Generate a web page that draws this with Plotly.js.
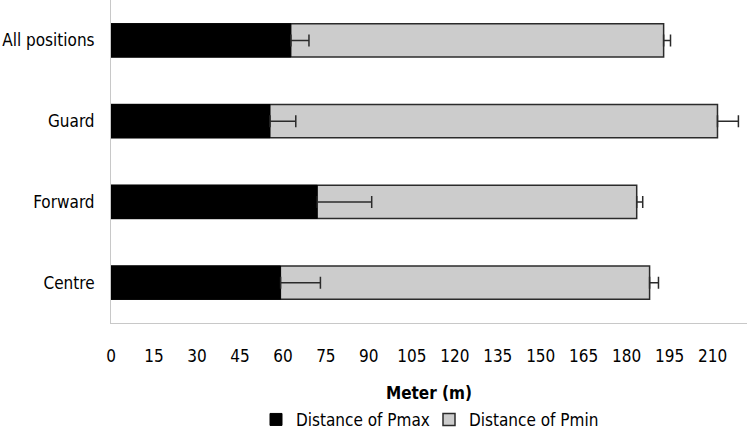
<!DOCTYPE html>
<html>
<head>
<meta charset="utf-8">
<script src="https://cdn.plot.ly/plotly-3.0.1.min.js"></script>
<style>
  html, body { margin: 0; padding: 0; background: #fff; }
  #chart { width: 747px; height: 438px; }
</style>
</head>
<body>
<div id="chart"></div>
<script>
// Positions, listed bottom to top as Plotly draws categories
const positions = ['Centre', 'Forward', 'Guard', 'All positions'];
// Distance of Pmax (m) and its SD
const pmaxDist = [59.2, 72.0, 55.5, 62.8];
const pmaxSd = [13.9, 19.0, 9.0, 6.3];
// Distance of Pmin (m) and its SD
const pminDist = [188.0, 183.5, 211.7, 192.9];
const pminSd = [3.1, 2.1, 7.3, 2.4];
const xTicks = [0, 15, 30, 45, 60, 75, 90, 105, 120, 135, 150, 165, 180, 195, 210];

const font = "'DejaVu Sans Condensed', 'Liberation Sans Narrow', 'Liberation Sans', Arial, sans-serif";

const pminTrace = {
  type: 'bar', orientation: 'h',
  y: positions, x: pminDist,
  name: 'Distance of Pmin',
  legendrank: 2,
  marker: { color: '#cccccc', line: { color: '#2b2b2b', width: 1.5 } },
  error_x: { type: 'data', symmetric: false, array: pminSd, arrayminus: [0, 0, 0, 0],
             color: '#2b2b2b', thickness: 1.5, width: 6 },
  hoverinfo: 'x+y'
};

const pmaxTrace = {
  type: 'bar', orientation: 'h',
  y: positions, x: pmaxDist,
  name: 'Distance of Pmax',
  legendrank: 1,
  marker: { color: '#000000', line: { color: '#000000', width: 1 } },
  error_x: { type: 'data', symmetric: false, array: pmaxSd, arrayminus: [0, 0, 0, 0],
             color: '#2b2b2b', thickness: 1.5, width: 6 },
  hoverinfo: 'x+y'
};

const layout = {
  width: 747, height: 438,
  margin: { l: 111, r: 0, t: 0, b: 115 },
  paper_bgcolor: '#ffffff',
  plot_bgcolor: '#ffffff',
  barmode: 'overlay',
  bargap: 0.59,
  font: { family: font, size: 17, color: '#000000' },
  xaxis: {
    range: [0, 222],
    tickvals: xTicks,
    ticktext: xTicks.map(String),
    showgrid: false, zeroline: false,
    showline: true, linecolor: '#c8c8c8', linewidth: 1,
    ticks: '',
    ticklabelstandoff: 18,
    tickfont: { family: font, size: 17 },
    title: { text: 'Meter (m)', font: { family: font, size: 17, weight: 'bold' }, standoff: 21 }
  },
  yaxis: {
    showgrid: false, zeroline: false,
    showline: true, linecolor: '#c8c8c8', linewidth: 1,
    ticks: '',
    ticklabelstandoff: 12,
    tickfont: { family: font, size: 17 }
  },
  showlegend: true,
  legend: {
    orientation: 'h', x: 0.5, xanchor: 'center', y: -0.3, yanchor: 'middle',
    font: { family: font, size: 17 },
    itemwidth: 30, entrywidth: 128, tracegroupgap: 0
  }
};

Plotly.newPlot('chart', [pminTrace, pmaxTrace], layout, { displayModeBar: false, staticPlot: true });
</script>
</body>
</html>
